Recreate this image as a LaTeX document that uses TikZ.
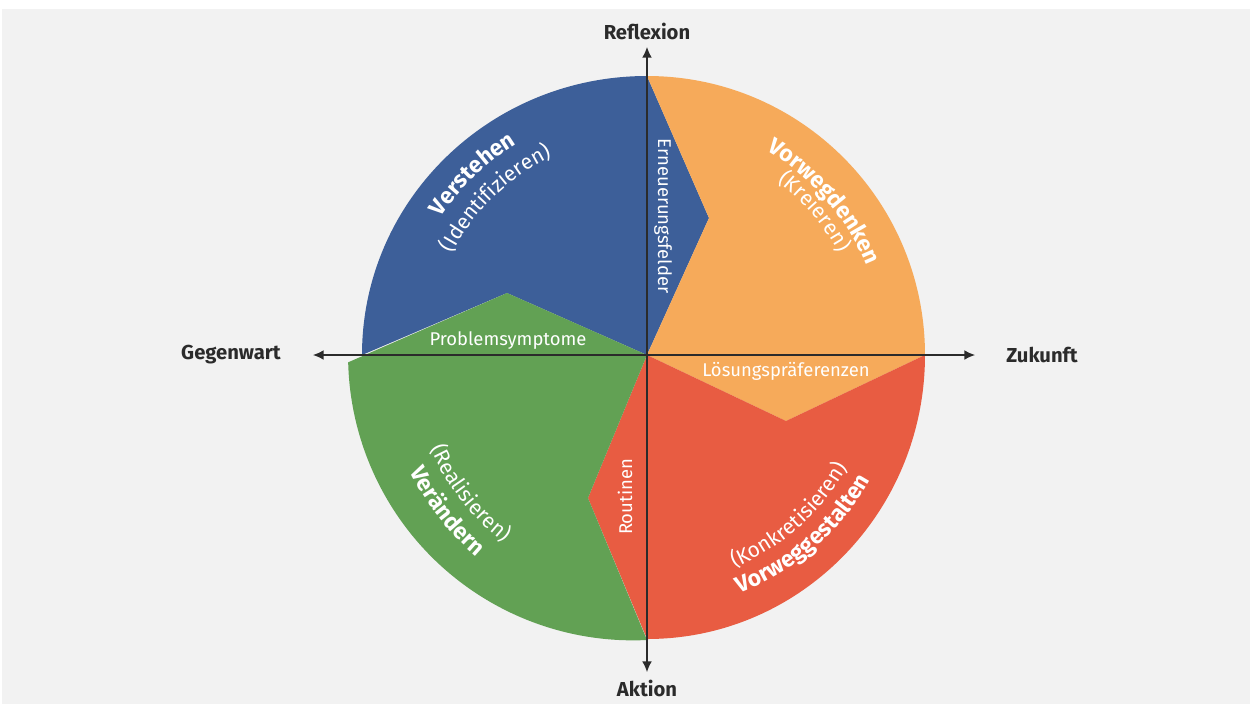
\documentclass[tikz,border=0pt]{standalone}
\usepackage{fontspec}
\setmainfont{Fira Sans}
\usetikzlibrary{arrows.meta,decorations.text}
\definecolor{bgGray}{HTML}{F2F2F2}
\definecolor{segBlue}{HTML}{3D5F99}
\definecolor{segOrange}{HTML}{F6AA5A}
\definecolor{segRed}{HTML}{E85C42}
\definecolor{segGreen}{HTML}{62A154}
\definecolor{axisGray}{HTML}{2B2B2B}
\tikzset{
  axis/.style={draw=axisGray, line width=0.7pt, {Latex[length=6pt,width=5.5pt]}-{Latex[length=6pt,width=5.5pt]}},
  axislabel/.style={font=\fontsize{11.5}{13}\selectfont\bfseries, text=axisGray},
  fieldlabel/.style={font=\fontsize{10.5}{12}\selectfont, text=white},
}
\newcommand\headword{\fontsize{13}{15}\selectfont\bfseries\color{white}}
\newcommand\subword{\fontsize{12}{14}\selectfont\color{white}}

\begin{document}
\begin{tikzpicture}[x=0.02cm, y=0.02cm]
  \useasboundingbox (-647,355) rectangle (603,-349);
  \fill[bgGray] (-645,346) rectangle (603,-349);
  % segments
  \fill[segBlue] (0,279) arc[start angle=90,end angle=180,x radius=285,y radius=279] -- (-140,62) -- (0,0) -- (62,137) -- cycle;
  \fill[segOrange] (278,0) arc[start angle=0,end angle=90,x radius=278,y radius=279] -- (62,137) -- (0,0) -- (139,-66) -- cycle;
  \fill[segRed] (278,0) -- (139,-66) -- (0,0) -- (-59,-143) -- (0,-284) arc[start angle=-90,end angle=0,x radius=278,y radius=284] -- cycle;
  \fill[segGreen] (-140,62) -- (0,0) -- (-59,-143) -- (0,-285) arc[start angle=-87.2,end angle=-178.6,radius=285] -- cycle;
  % axes
  \coordinate (west) at (-334,0);
  \coordinate (east) at (328,0);
  \coordinate (north) at (0,308);
  \coordinate (south) at (0,-317);
  \draw[axis] (west) -- (east);
  \draw[axis] (south) -- (north);
  \node[axislabel] (reflexion) at (0,324) {Reflexion};
  \node[axislabel] (aktion) at (0,-333) {Aktion};
  \node[axislabel] (gegenwart) at (-416,0) {Gegenwart};
  \node[axislabel] (zukunft) at (395,0) {Zukunft};
  % fields
  \node[fieldlabel] (symptome) at (-139,14) {Problemsymptome};
  \node[fieldlabel, rotate=-90] (felder) at (16,139) {Erneuerungsfelder};
  \node[fieldlabel] (praeferenzen) at (139,-16) {Lösungspräferenzen};
  \node[fieldlabel, rotate=90] (routinen) at (-22,-142) {Routinen};
  % quadrant names
  \path[decorate, decoration={text along path, text align=center, text={|\headword|Verstehen}}] (174:248) arc[start angle=174,end angle=94,radius=248];
  \path[decorate, decoration={text along path, text align=center, text={|\subword|(Identifizieren)}}] (174:220) arc[start angle=174,end angle=94,radius=220];
  \path[decorate, decoration={text along path, text align=center, text={|\headword|Vorwegdenken}}] (81:237) arc[start angle=81,end angle=1,radius=237];
  \path[decorate, decoration={text along path, text align=center, text={|\subword|(Kreieren)}}] (80.5:217) arc[start angle=80.5,end angle=0.5,radius=217];
  \path[decorate, decoration={text along path, text align=center, text={|\headword|Verändern}}] (178:264) arc[start angle=178,end angle=258,radius=264];
  \path[decorate, decoration={text along path, text align=center, text={|\subword|(Realisieren)}}] (178:236) arc[start angle=178,end angle=258,radius=236];
  \path[decorate, decoration={text along path, text align=center, text={|\headword|Vorweggestalten}}] (-89:256) arc[start angle=-89,end angle=-9,radius=256];
  \path[decorate, decoration={text along path, text align=center, text={|\subword|(Konkretisieren)}}] (-88.5:230) arc[start angle=-88.5,end angle=-8.5,radius=230];
\end{tikzpicture}
\end{document}
